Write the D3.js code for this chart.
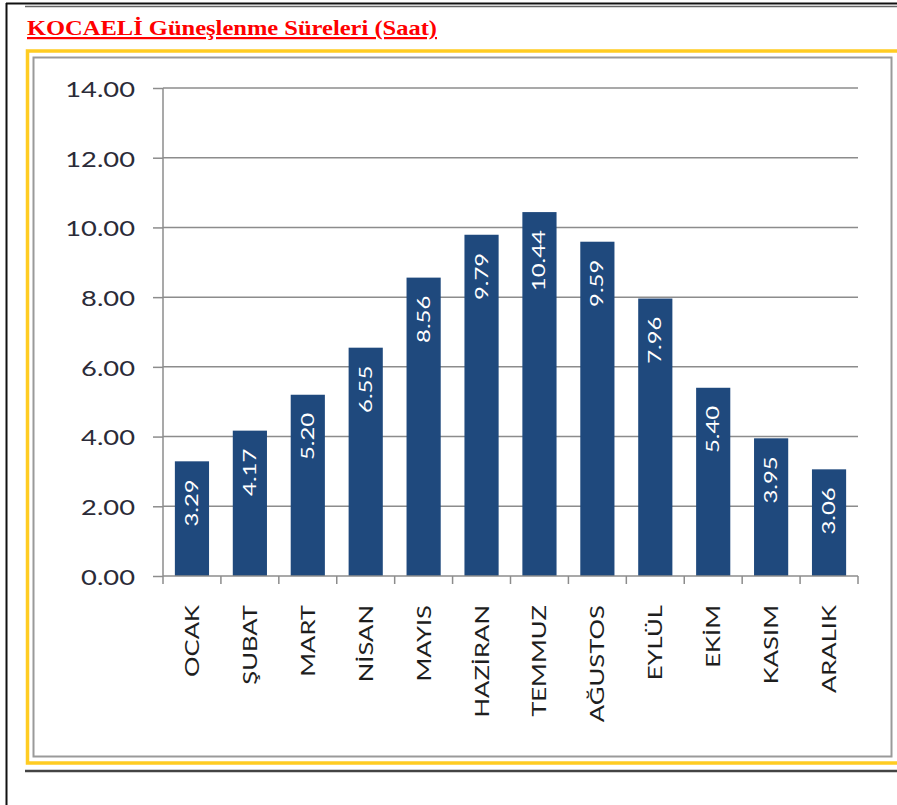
<!DOCTYPE html>
<html><head><meta charset="utf-8">
<script src="https://cdn.jsdelivr.net/npm/d3@7"></script>
<style>body{margin:0;background:#fff;}svg{display:block;}</style>
</head><body>
<svg id="chart" width="897" height="805"></svg>
<script>
const title = "KOCAELİ Güneşlenme Süreleri (Saat)";
const months = ["OCAK","ŞUBAT","MART","NİSAN","MAYIS","HAZİRAN","TEMMUZ","AĞUSTOS","EYLÜL","EKİM","KASIM","ARALIK"];
const hours = [3.29,4.17,5.20,6.55,8.56,9.79,10.44,9.59,7.96,5.40,3.95,3.06];
const yTicks = [0,2,4,6,8,10,12,14];

const svg = d3.select("#chart");
const sans = "Lato, 'Open Sans', sans-serif";
// page frame
svg.append("line").attr("x1",6.5).attr("x2",6.5).attr("y1",3).attr("y2",805).attr("stroke","#111").attr("stroke-width",2);
svg.append("line").attr("x1",6).attr("x2",897).attr("y1",3.5).attr("y2",3.5).attr("stroke","#111").attr("stroke-width",2);
svg.append("line").attr("x1",25).attr("x2",897).attr("y1",6.5).attr("y2",6.5).attr("stroke","#666").attr("stroke-width",1.5);
svg.append("line").attr("x1",25).attr("x2",897).attr("y1",771).attr("y2",771).attr("stroke","#444").attr("stroke-width",2.5);

// title
svg.append("text").attr("x",27).attr("y",35)
  .attr("font-family","'Liberation Serif', 'Times New Roman', serif").attr("font-weight","bold")
  .attr("font-size",22).attr("fill","#ff0000").attr("text-decoration","underline")
  .attr("textLength",410).attr("lengthAdjust","spacingAndGlyphs").text(title);

// chart frame
svg.append("rect").attr("x",27.5).attr("y",51).attr("width",872).attr("height",712)
  .attr("fill","none").attr("stroke","#ffcc22").attr("stroke-width",3.5);
svg.append("rect").attr("x",33.5).attr("y",57.5).attr("width",858).attr("height",699)
  .attr("fill","#fff").attr("stroke","#9a9a9a").attr("stroke-width",2);

const pLeft = 163, pRight = 858, pTop = 88, pBottom = 576;
const x = d3.scaleBand().domain(months).range([pLeft,pRight]).paddingInner(0.41).paddingOuter(0.205);
const y = d3.scaleLinear().domain([0,14]).range([pBottom,pTop]);

// gridlines
svg.append("g").selectAll("line").data(yTicks.filter(d=>d>0)).join("line")
  .attr("x1",pLeft).attr("x2",pRight).attr("y1",d=>y(d)).attr("y2",d=>y(d))
  .attr("stroke","#8c8c8c").attr("stroke-width",1.5);

// y axis
const yAxis = svg.append("g").attr("transform",`translate(${pLeft},0)`)
  .call(d3.axisLeft(y).tickValues(yTicks).tickFormat(d3.format(".2f")).tickSize(10).tickPadding(18));
yAxis.select(".domain").attr("stroke","#8c8c8c").attr("stroke-width",1.5).attr("d",`M0,${pTop}V${pBottom}`);
yAxis.selectAll(".tick line").attr("stroke","#8c8c8c").attr("stroke-width",1.5);
yAxis.selectAll(".tick text")
  .attr("x",0).attr("dy","0.4em")
  .attr("transform","translate(-28,0) scale(1.3,1)")
  .attr("font-family",sans).attr("font-size",21).attr("fill","#2b2b38");

// bars
svg.append("g").selectAll("rect").data(months).join("rect")
  .attr("x",d=>x(d)).attr("width",x.bandwidth())
  .attr("y",(d,i)=>y(hours[i])).attr("height",(d,i)=>pBottom-y(hours[i]))
  .attr("fill","#1f497d");

// x axis
const step = x.step();
svg.append("line").attr("x1",pLeft).attr("x2",pRight).attr("y1",pBottom).attr("y2",pBottom)
  .attr("stroke","#8c8c8c").attr("stroke-width",1.5);
svg.append("g").selectAll("line").data(d3.range(months.length+1)).join("line")
  .attr("x1",i=>pLeft+i*step).attr("x2",i=>pLeft+i*step).attr("y1",pBottom).attr("y2",pBottom+8)
  .attr("stroke","#8c8c8c").attr("stroke-width",1.5);

// category labels
svg.append("g").selectAll("text").data(months).join("text")
  .attr("transform",d=>`translate(${x(d)+x.bandwidth()/2+7},605) rotate(-90) scale(1.35,1)`)
  .attr("text-anchor","end")
  .attr("font-family",sans).attr("font-size",19).attr("fill","#1e1e1e")
  .text(d=>d);

// value labels
svg.append("g").selectAll("text").data(months).join("text")
  .attr("transform",(d,i)=>`translate(${x(d)+x.bandwidth()/2+6},${y(hours[i])+18}) rotate(-90) scale(1.45,1)`)
  .attr("text-anchor","end")
  .attr("font-family",sans).attr("font-size",16.5).attr("fill","#ffffff")
  .text((d,i)=>hours[i].toFixed(2));
</script>
</body></html>
